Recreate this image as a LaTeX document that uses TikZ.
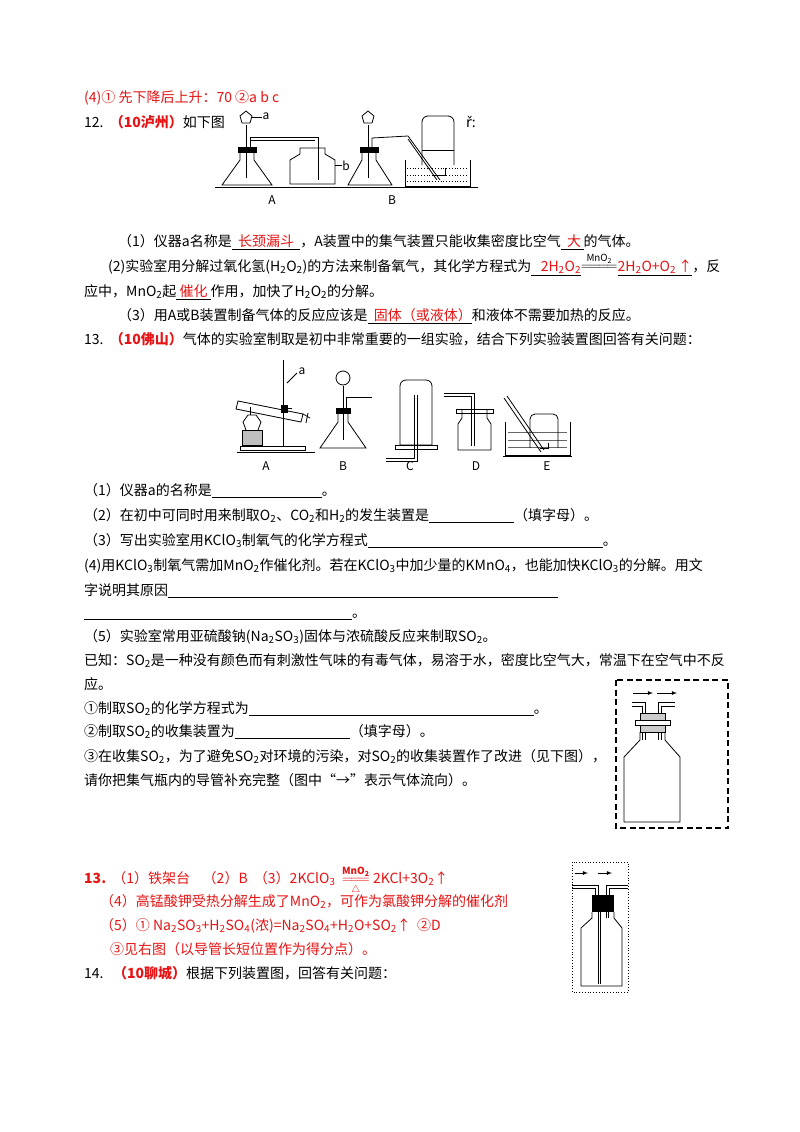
\documentclass[tikz,border=0pt]{standalone}
\usepackage{amsmath}
\usepackage{fontspec}
\setmainfont{Noto Sans CJK SC}
\newfontfamily\dvs{DejaVu Sans}
\usepackage{xcolor}
\definecolor{ans}{RGB}{230,20,20}
\newcommand{\bl}[1]{\rule[-2.5pt]{#1pt}{0.6pt}}
\newcommand{\sbb}[1]{\textsubscript{#1}}
\begin{document}
\begin{tikzpicture}[x=1pt,y=-1pt,
  t/.style={anchor=base west,inner sep=0pt,font=\fontsize{14}{16}\selectfont},
  r/.style={t,text=ans},
  ap/.style={line width=0.8pt,black},
  lab/.style={inner sep=0pt,font=\fontsize{12}{13}\selectfont}]
\useasboundingbox (0,0) rectangle (800,1132);
\fill[white] (0,0) rectangle (800,1132);
% text
\node[r] (l1) at (84,102) {(4)① 先下降后上升：70 ②a b c};
\node[t] (q12) at (84,127) {12.\ \ \textcolor{ans}{\textbf{（10泸州）}}如下图};
\node[t] (q12b) at (466,127) {{\dvs ř}:};
\node[t] (a1) at (118,246) {（1）仪器a名称是\underline{\ \ \textcolor{ans}{长颈漏斗}\ \ }，A装置中的集气装置只能收集密度比空气\underline{\ \ \textcolor{ans}{大}\,}的气体。};
\node[t] (a2) at (108,271) {(2)实验室用分解过氧化氢(H\sbb2O\sbb2)的方法来制备氧气，其化学方程式为\underline{\ \ \ \textcolor{ans}{2H\sbb2O\sbb2}}\raisebox{1pt}{$\overset{\scriptstyle\mathrm{MnO_2}}{=\!=\!=\!=}$}\underline{\textcolor{ans}{2H\sbb2O+O\sbb2\,↑}}，反};
\node[t] (a2b) at (84,296) {应中，MnO\sbb2起\underline{\ \textcolor{ans}{催化}\ }作用，加快了H\sbb2O\sbb2的分解。};
\node[t] (a3) at (118,320) {（3）用A或B装置制备气体的反应应该是\underline{\ \ \textcolor{ans}{固体（或液体）}}和液体不需要加热的反应。};
\node[t] (q13) at (84,344) {13.\ \ \textcolor{ans}{\textbf{（10佛山）}}气体的实验室制取是初中非常重要的一组实验，结合下列实验装置图回答有关问题：};
\node[t] (b1) at (84,495) {（1）仪器a的名称是\bl{110}。};
\node[t] (b2) at (84,520) {（2）在初中可同时用来制取O\sbb2、CO\sbb2和H\sbb2的发生装置是\bl{85}（填字母）。};
\node[t] (b3) at (84,545) {（3）写出实验室用KClO\sbb3制氧气的化学方程式\bl{235}。};
\node[t] (b4) at (84,570) {(4)用KClO\sbb3制氧气需加MnO\sbb2作催化剂。若在KClO\sbb3中加少量的KMnO\sbb4，也能加快KClO\sbb3的分解。用文};
\node[t] (b4b) at (84,595) {字说明其原因\bl{390}};
\node[t] (b4c) at (84,617) {\bl{268}。};
\node[t] (b5) at (84,641) {（5）实验室常用亚硫酸钠(Na\sbb2SO\sbb3)固体与浓硫酸反应来制取SO\sbb2。};
\node[t] (b6) at (84,665) {已知：SO\sbb2是一种没有颜色而有刺激性气味的有毒气体，易溶于水，密度比空气大，常温下在空气中不反};
\node[t] (b7) at (84,689) {应。};
\node[t] (b8) at (84,713) {①制取SO\sbb2的化学方程式为\bl{285}。};
\node[t] (b9) at (84,736) {②制取SO\sbb2的收集装置为\bl{115}（填字母）。};
\node[t] (b10) at (84,761) {③在收集SO\sbb2，为了避免SO\sbb2对环境的污染，对SO\sbb2的收集装置作了改进（见下图），};
\node[t] (b11) at (84,785) {请你把集气瓶内的导管补充完整（图中“→”表示气体流向）。};
\node[r] (c1) at (84,883) {\textbf{13.}\ \ （1）铁架台\ \ \ \ （2）B\ \ （3）2KClO\sbb3\ \ \raisebox{0pt}{$\overset{\scriptstyle\mathbf{MnO_2}}{\underset{\scriptstyle\triangle}{=\!=\!=}}$}\ 2KCl+3O\sbb2↑};
\node[r] (c2) at (100,906) {（4）高锰酸钾受热分解生成了MnO\sbb2，可作为氯酸钾分解的催化剂};
\node[r] (c3) at (100,930) {（5）① Na\sbb2SO\sbb3+H\sbb2SO\sbb4(浓)=Na\sbb2SO\sbb4+H\sbb2O+SO\sbb2↑\ \ ②D};
\node[r] (c4) at (110,954) {③见右图（以导管长短位置作为得分点）。};
\node[t] (q14) at (84,978) {14.\ \ \ \textcolor{ans}{\textbf{（10聊城）}}根据下列装置图，回答有关问题：};

% ===== Fig 12 =====
\begin{scope}[ap]
\draw (215,187) -- (478,187);
\draw (240,150) -- (240,160) -- (222,185) -- (272,185) -- (254,160) -- (254,150);
\draw[fill=black] (238,147) rectangle (256,152);
\draw (246,125) -- (246,178);
\draw (240,116) -- (246,111) -- (252,116) -- (250,123) -- (242,123) -- cycle;
\draw (252,117) -- (262,117); \node[lab] (la) at (266,116) {a};
\draw (250,150) -- (250,137) -- (318,137) -- (318,180);
\draw (250,140) -- (315,140);
\draw (300,148) -- (300,154) -- (290,160) -- (290,184) -- (335,184) -- (335,160) -- (325,154) -- (325,148) -- cycle;
\draw (335,165) -- (342,165); \node[lab] (lb) at (346,166) {b};
\node[lab] (lA) at (272,200) {A};
\draw (362,150) -- (362,160) -- (348,185) -- (392,185) -- (376,160) -- (376,150);
\draw[fill=black] (360,147) rectangle (378,152);
\draw (368,125) -- (368,178);
\draw (362,116) -- (368,111) -- (374,116) -- (372,123) -- (364,123) -- cycle;
\draw (372,150) -- (372,138) -- (408,136) -- (440,180);
\draw (408,139) -- (437,180);
\draw (405,160) -- (405,186) -- (470,186) -- (470,160);
\draw[dotted] (407,168) -- (468,168) (407,175)--(468,175) (407,181)--(468,181);
\draw (422,165) -- (422,122) arc (180:270:6) -- (448,116) arc (270:360:6) -- (454,165);
\draw (422,150) -- (454,150);
\draw (432,175) -- (445,175) -- (445,168);
\node[lab] (lB) at (392,200) {B};
\end{scope}

% ===== Fig 13 =====
\begin{scope}[ap]
\draw (237,452) -- (315,452);
\draw (240,446) rectangle (305,450);
\draw (283,360) -- (283,446);
\draw (238,401) -- (303,414) -- (301,422) -- (236,409) -- cycle;
\draw (283,408) -- (292,408); \draw[fill=black] (281,405) rectangle (287,412);
\draw (303,414) -- (310,418); \draw (308,413) -- (306,423);
\draw (297,373) -- (287,383); \node[lab] (l13a) at (302,371) {a};
\fill[black!25] (242,430) rectangle (262,445);
\draw (242,430) rectangle (262,445);
\draw (246,430) -- (243,422) -- (248,415) -- (256,415) -- (261,422) -- (258,430);
\draw (250,415) -- (250,407);
\node[lab] (l13A) at (266,466) {A};
\draw (338,410) -- (338,422) -- (320,448) -- (366,448) -- (348,422) -- (348,410);
\draw[fill=black] (336,408) rectangle (350,413);
\draw (343,386) -- (343,440);
\draw (343,378) circle (7);
\draw (346,410) -- (346,397) -- (372,397);
\node[lab] (l13B) at (343,466) {B};
\draw (400,445) -- (400,386) arc (180:270:6) -- (426,380) arc (270:360:6) -- (432,445) -- cycle;
\draw (395,445) rectangle (437,449);
\draw (414,395) -- (414,458) -- (386,458);
\draw (417,395) -- (417,461) -- (386,461);
\node[lab] (l13C) at (410,466) {C};
\draw (462,410) -- (462,418) -- (458,424) -- (458,450) -- (491,450) -- (491,424) -- (487,418) -- (487,410);
\draw (456,409) rectangle (493,413);
\draw (444,393) -- (474,393) -- (474,446);
\draw (444,396) -- (471,396) -- (471,446);
\node[lab] (l13D) at (476,466) {D};
\draw (505,422) -- (505,455) -- (570,455) -- (570,422);
\draw (503,456) -- (572,456);
\draw[black!60] (508,432) -- (567,432) (508,440) -- (567,440) (508,447) -- (567,447);
\draw (530,448) -- (530,419) arc (180:270:5) -- (553,414) arc (270:360:5) -- (558,448);
\draw (540,448) -- (548,448) -- (548,443);
\draw (504,398) -- (541,452); \draw (507,396) -- (544,450);
\node[lab] (l13E) at (547,466) {E};
\end{scope}

% ===== dashed box =====
\draw[line width=1.8pt,dash pattern=on 6pt off 3.5pt] (616,680) rectangle (728,828);
\begin{scope}[ap]
\draw[-latex] (633,693) -- (653,693);
\draw[-latex] (657,693) -- (677,693);
\draw (632,702) -- (645,702) -- (645,714);
\draw (632,706) -- (642,706) -- (642,714);
\draw (675,702) -- (658,702) -- (658,714);
\draw (675,706) -- (661,706) -- (661,714);
\draw[fill=black!20] (640,713) rectangle (665,720);
\draw (635,720) rectangle (670,725);
\draw[fill=black!20] (640,725) rectangle (665,732);
\draw (642,732) -- (642,740); \draw (645,732)--(645,740); \draw (658,732)--(658,740); \draw (661,732)--(661,740);
\draw (640,732) -- (640,740) -- (624,757) -- (624,822) -- (680,822) -- (680,757) -- (665,740) -- (665,732);
\end{scope}

% ===== answer box =====
\draw[line width=0.8pt,dotted] (572,862) rectangle (628,992);
\begin{scope}[ap]
\draw[-latex] (575,873) -- (588,873);
\draw[-latex] (598,873) -- (612,873);
\draw (572,885) -- (598,885) -- (598,895);
\draw (572,888) -- (595,888) -- (595,895);
\draw (628,885) -- (606,885) -- (606,895);
\draw (628,888) -- (609,888) -- (609,895);
\fill[black] (592,895) rectangle (614,912);
\draw (598,912) -- (598,984); \draw (600,912) -- (600,984);
\draw (606,912) -- (606,918); \draw (608,912) -- (608,918);
\draw (592,912) -- (592,918) -- (581,928) -- (581,986) -- (622,986) -- (622,928) -- (614,918) -- (614,912);
\end{scope}
\end{tikzpicture}
\end{document}
